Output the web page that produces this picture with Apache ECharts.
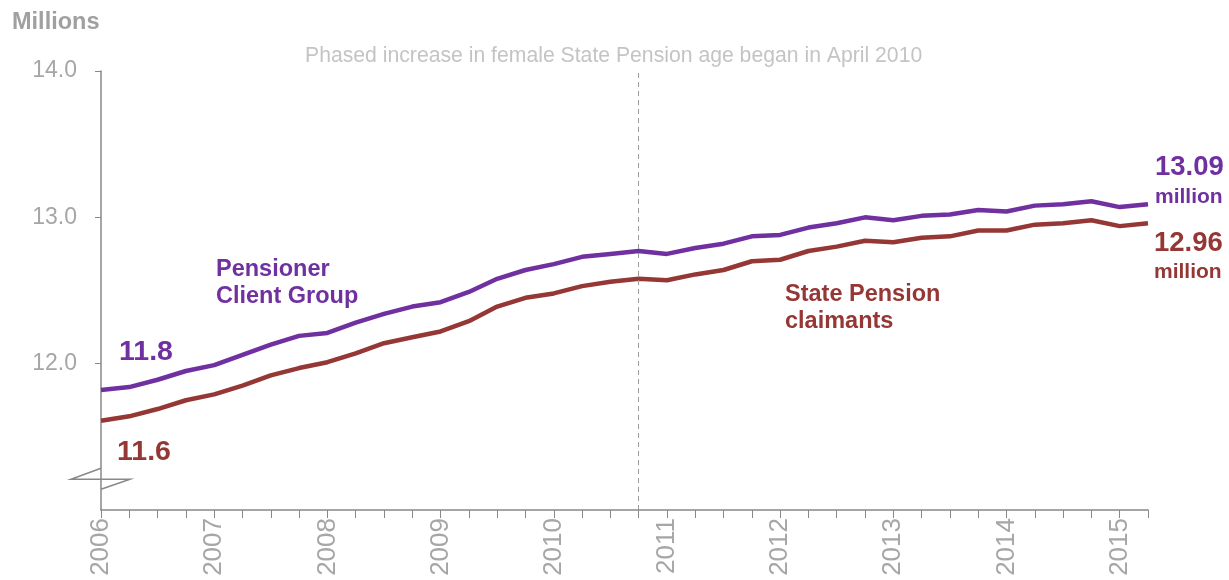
<!DOCTYPE html>
<html>
<head>
<meta charset="utf-8">
<title>Pensioner Client Group and State Pension claimants</title>
<script src="https://cdn.jsdelivr.net/npm/echarts@6/dist/echarts.min.js"></script>
<style>
  html, body { margin: 0; padding: 0; background: #fff; }
  #main { width: 1229px; height: 580px; }
</style>
</head>
<body>
<div id="main"></div>
<script type="text/javascript">
// quarterly, Q1 2006 to Q2 2015
var quarters = [
  '2006 Q1', '2006 Q2', '2006 Q3', '2006 Q4',
  '2007 Q1', '2007 Q2', '2007 Q3', '2007 Q4',
  '2008 Q1', '2008 Q2', '2008 Q3', '2008 Q4',
  '2009 Q1', '2009 Q2', '2009 Q3', '2009 Q4',
  '2010 Q1', '2010 Q2', '2010 Q3', '2010 Q4',
  '2011 Q1', '2011 Q2', '2011 Q3', '2011 Q4',
  '2012 Q1', '2012 Q2', '2012 Q3', '2012 Q4',
  '2013 Q1', '2013 Q2', '2013 Q3', '2013 Q4',
  '2014 Q1', '2014 Q2', '2014 Q3', '2014 Q4',
  '2015 Q1', '2015 Q2'
];
// millions
var clientGroup = [
  11.82, 11.84, 11.89, 11.95, 11.99, 12.06, 12.13, 12.19,
  12.21, 12.28, 12.34, 12.39, 12.42, 12.49, 12.58, 12.64,
  12.68, 12.73, 12.75, 12.77, 12.75, 12.79, 12.82, 12.87,
  12.88, 12.93, 12.96, 13.00, 12.98, 13.01, 13.02, 13.05,
  13.04, 13.08, 13.09, 13.11, 13.07, 13.09
];
var spClaimants = [
  11.61, 11.64, 11.69, 11.75, 11.79, 11.85, 11.92, 11.97,
  12.01, 12.07, 12.14, 12.18, 12.22, 12.29, 12.39, 12.45,
  12.48, 12.53, 12.56, 12.58, 12.57, 12.61, 12.64, 12.70,
  12.71, 12.77, 12.80, 12.84, 12.83, 12.86, 12.87, 12.91,
  12.91, 12.95, 12.96, 12.98, 12.94, 12.96
];
var yTicks = [12, 13, 14];
var markerQuarter = '2010 Q4';
var note = 'Phased increase in female State Pension age began in April 2010';

var PURPLE = '#7030a0';
var RED = '#953735';
var AXIS = '#888888';
var FONT = '"Liberation Sans", Arial, sans-serif';

var myChart = echarts.init(document.getElementById('main'));

function txt(x, y, s, size, color, bold) {
  return {
    type: 'text', x: x, y: y, silent: true,
    style: {
      text: s, fill: color, font: (bold ? 'bold ' : '') + size + 'px ' + FONT,
      textAlign: 'left', textVerticalAlign: 'middle'
    }
  };
}

var option = {
  animation: false,
  grid: { left: 101, right: 81, top: 71, bottom: 70 },
  xAxis: {
    type: 'category',
    data: quarters,
    boundaryGap: false,
    axisLine: { lineStyle: { color: AXIS, width: 1.5 } },
    axisTick: { interval: 0, length: 8, lineStyle: { color: AXIS, width: 1 } },
    axisLabel: {
      interval: 3, rotate: 90, margin: 8,
      color: '#a6a6a6', fontSize: 26, fontFamily: FONT,
      formatter: function (v) { return v.slice(0, 4); }
    },
    splitLine: { show: false }
  },
  yAxis: {
    type: 'value',
    min: 11, max: 14, interval: 1,
    axisLine: { show: true, lineStyle: { color: AXIS, width: 1.5 } },
    axisTick: { show: true, length: 6, customValues: yTicks, lineStyle: { color: AXIS } },
    axisLabel: {
      customValues: yTicks, margin: 24,
      color: '#a6a6a6', fontSize: 23, fontFamily: FONT,
      formatter: function (v) { return v.toFixed(1); }
    },
    splitLine: { show: false }
  },
  series: [
    {
      name: 'Pensioner Client Group',
      type: 'line',
      data: clientGroup,
      showSymbol: false,
      lineStyle: { color: PURPLE, width: 4.5, join: 'round' },
      itemStyle: { color: PURPLE },
      z: 3
    },
    {
      name: 'State Pension claimants',
      type: 'line',
      data: spClaimants,
      showSymbol: false,
      lineStyle: { color: RED, width: 4.5, join: 'round' },
      itemStyle: { color: RED },
      z: 3,
      markLine: {
        silent: true,
        symbol: ['none', 'none'],
        label: { show: false },
        lineStyle: { color: '#9a9a9a', width: 1, type: [5, 4] },
        data: [{ xAxis: markerQuarter }]
      }
    }
  ],
  graphic: [
    txt(12, 23, 'Millions', 23.5, '#a0a0a0', true),
    txt(305, 56, note, 21.2, '#c4c4c4', false),
    txt(216, 270, 'Pensioner', 23.5, PURPLE, true),
    txt(216, 297, 'Client Group', 23.5, PURPLE, true),
    txt(785, 295, 'State Pension', 23.5, RED, true),
    txt(785, 322, 'claimants', 23.5, RED, true),
    txt(119, 352, clientGroup[0].toFixed(1), 28.5, PURPLE, true),
    txt(117, 452, spClaimants[0].toFixed(1), 28.5, RED, true),
    txt(1155, 167, clientGroup[clientGroup.length - 1].toFixed(2), 27.5, PURPLE, true),
    txt(1155, 197, 'million', 21, PURPLE, true),
    txt(1154, 243, spClaimants[spClaimants.length - 1].toFixed(2), 27.5, RED, true),
    txt(1154, 272, 'million', 21, RED, true)
  ]
};
myChart.setOption(option);

// broken-axis mark on the value axis, just above the floor
var p = myChart.convertToPixel({ gridIndex: 0 }, [quarters[0], 11.21]);
myChart.setOption({
  graphic: option.graphic.concat([{
    type: 'polyline', silent: true,
    shape: { points: [[p[0], p[1] - 11], [p[0] - 30, p[1]], [p[0] + 29, p[1]], [p[0], p[1] + 10]] },
    style: { stroke: AXIS, lineWidth: 1.5, fill: null }
  }])
});
</script>
</body>
</html>
